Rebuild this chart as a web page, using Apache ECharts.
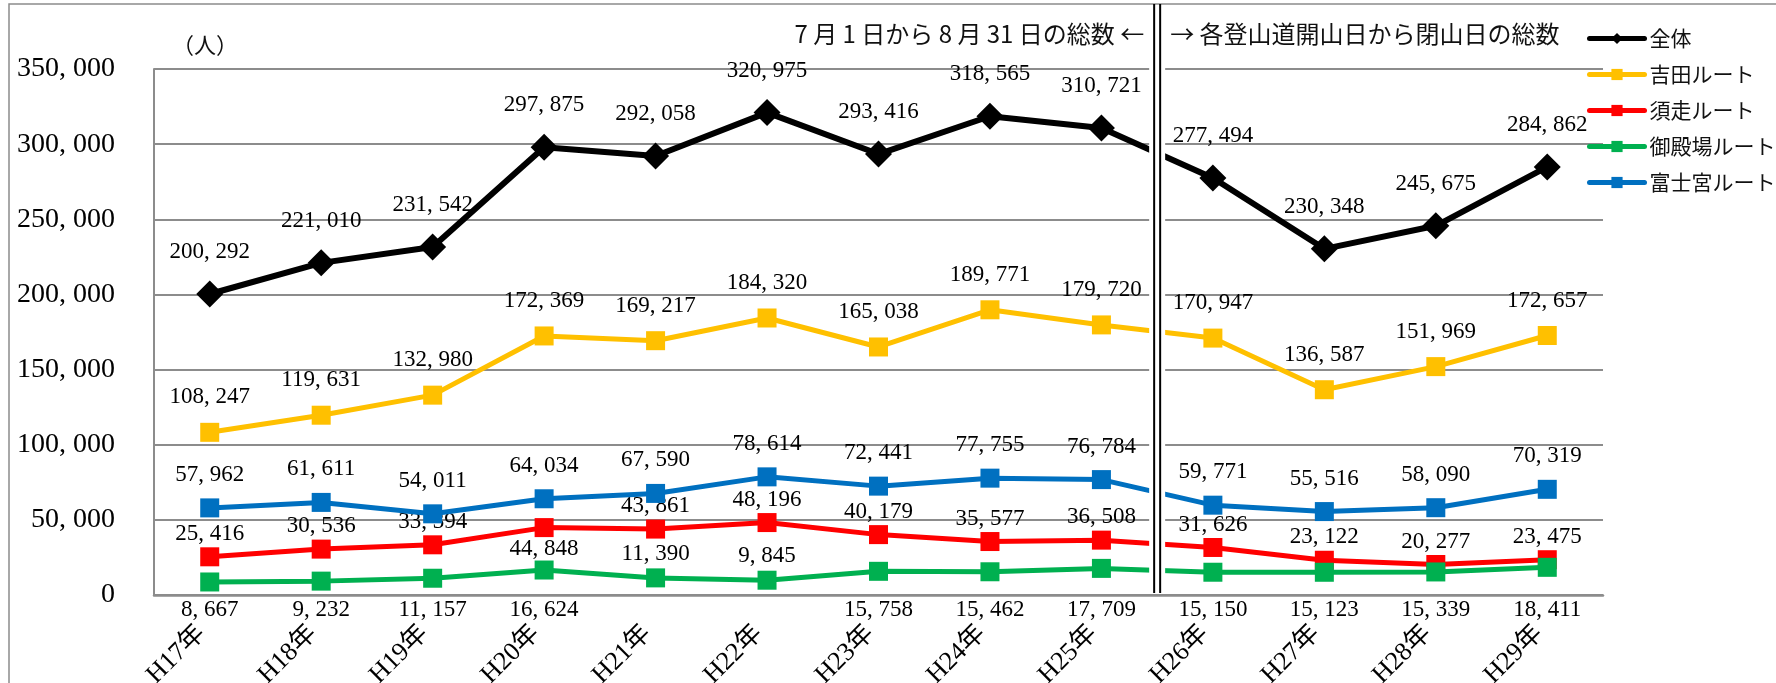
<!DOCTYPE html>
<html><head><meta charset="utf-8">
<script src="https://cdn.jsdelivr.net/npm/echarts@6/dist/echarts.min.js"></script>
<style>html,body{margin:0;padding:0;background:#fff}#c{width:1776px;height:683px}</style>
</head><body><div id="c"></div><script>
// ---- data ----
const categories = ['H17年','H18年','H19年','H20年','H21年','H22年','H23年','H24年','H25年','H26年','H27年','H28年','H29年'];
const seriesNames = ['全体','吉田ルート','須走ルート','御殿場ルート','富士宮ルート'];
const total      = [200292,221010,231542,297875,292058,320975,293416,318565,310721,277494,230348,245675,284862];
const yoshida    = [108247,119631,132980,172369,169217,184320,165038,189771,179720,170947,136587,151969,172657];
const subashiri  = [25416,30536,33394,44848,43861,48196,40179,35577,36508,31626,23122,20277,23475];
const gotemba    = [8667,9232,11157,16624,11390,9845,15758,15462,17709,15150,15123,15339,18411];
const fujinomiya = [57962,61611,54011,64034,67590,78614,72441,77755,76784,59771,55516,58090,70319];
const yMin = 0, yMax = 350000, yInterval = 50000;
const unitLabel = '（人）';
const leftNote = '7 月 1 日から 8 月 31 日の総数 ←';
const rightNote = '→ 各登山道開山日から閉山日の総数';
const periodBreakAfter = 'H25年';
const gotembaLabelAbove = ['H21年','H22年'];
const subashiriLabelBelow = ['H20年'];

// ---- styling ----
const SERIF = '"Liberation Serif","Noto Sans CJK JP",serif';
const CJK = '"Noto Sans CJK JP","Liberation Serif",sans-serif';
const colors = ['#000000','#FFC000','#FF0000','#00B050','#0070C0'];
const fmt = v => Number(v).toLocaleString('en-US').replace(/,/g, ', ');
const labelBase = {show:true, color:'#000', fontFamily:SERIF, fontSize:23, formatter:p=>fmt(Array.isArray(p.value)?p.value[1]:p.value)};

const chart = echarts.init(document.getElementById('c'), null, {renderer:'canvas'});

function lineSeries(name, data, idx, opts){
  return Object.assign({
    name, type:'line', data,
    symbol: idx===0 ? 'diamond' : 'rect',
    symbolSize: idx===0 ? 27 : 19,
    lineStyle:{color:colors[idx], width: idx===0 ? 6 : 5},
    itemStyle:{color:colors[idx]},
    z: 2 + idx,
    label: Object.assign({}, labelBase, {position:'top'}),
    emphasis:{disabled:true}
  }, opts||{});
}

const series = [
  lineSeries(seriesNames[0], total, 0, {label:Object.assign({}, labelBase, {position:'top', distance:17})}),
  lineSeries(seriesNames[1], yoshida, 1, {label:Object.assign({}, labelBase, {position:'top', distance:14})}),
  lineSeries(seriesNames[2], subashiri.map((v,i)=> subashiriLabelBelow.includes(categories[i]) ? {value:v, label:{position:'bottom', distance:0}} : v), 2,
    {label:Object.assign({}, labelBase, {position:'top', distance:2})}),
  lineSeries(seriesNames[3], gotemba.map((v,i)=> gotembaLabelAbove.includes(categories[i]) ? {value:v, label:{show:true}} : v), 3,
    {label:Object.assign({}, labelBase, {show:false, position:'top', distance:3})}),
  lineSeries(seriesNames[4], fujinomiya, 4, {label:Object.assign({}, labelBase, {position:'top', distance:12})}),
  {
    name:'御殿場ラベル', type:'scatter', silent:true, symbol:'circle', symbolSize:0,
    itemStyle:{color:'#ffffff', opacity:1},
    data: gotemba.map((v,i)=>({value:[categories[i], 0], label:{show:!gotembaLabelAbove.includes(categories[i])}})),
    label: Object.assign({}, labelBase, {position:'bottom', distance:3, color:'#000', opacity:1, formatter:p=>fmt(gotemba[p.dataIndex])}),
    z: 1
  }
];

const option = {
  animation:false,
  backgroundColor:'#ffffff',
  grid:{left:154, right:173, top:69, bottom:88, containLabel:false, outerBoundsMode:'none'},
  legend:{
    data: seriesNames, orient:'vertical', left:1582, top:23,
    itemWidth:55, itemHeight:14, itemGap:15,
    lineStyle:{width:5, cap:'round'},
    textStyle:{fontFamily:CJK, fontSize:21, color:'#111', lineHeight:20},
    selectedMode:false
  },
  xAxis:{
    type:'category', data:categories, boundaryGap:true,
    axisLine:{show:true, lineStyle:{color:'#8c8c8c', width:2.5}},
    axisTick:{show:false},
    axisLabel:{rotate:45, margin:26, padding:[0,12,0,0], fontFamily:SERIF, fontSize:26, color:'#000', interval:0}
  },
  yAxis:{
    type:'value', min:yMin, max:yMax, interval:yInterval,
    axisLine:{show:true, lineStyle:{color:'#8c8c8c', width:2}},
    axisTick:{show:false},
    splitLine:{show:true, lineStyle:{color:'#8c8c8c', width:2}},
    axisLabel:{margin:39, fontFamily:SERIF, fontSize:28, color:'#000', formatter:v=>fmt(v)}
  },
  series
};
chart.setOption(option);

// decorations: frame, period divider, notes, unit
const iA = categories.indexOf(periodBreakAfter);
const xa = chart.convertToPixel({xAxisIndex:0}, categories[iA]);
const xb = chart.convertToPixel({xAxisIndex:0}, categories[iA+1]);
const mid = (xa + xb) / 2;
const y0 = chart.convertToPixel({yAxisIndex:0}, yMin);

chart.setOption({graphic:[
  {type:'rect', z:0, silent:true, shape:{x:9, y:4, width:1800, height:800}, style:{fill:'none', stroke:'#8c8c8c', lineWidth:1.5}},
  {type:'rect', z:50, silent:true, shape:{x:mid-8, y:5, width:16, height:y0-7}, style:{fill:'#ffffff'}},
  {type:'line', z:51, silent:true, shape:{x1:mid-3, y1:4, x2:mid-3, y2:y0-2}, style:{stroke:'#000', lineWidth:2}},
  {type:'line', z:51, silent:true, shape:{x1:mid+3, y1:4, x2:mid+3, y2:y0-2}, style:{stroke:'#000', lineWidth:2}},
  {type:'text', z:52, silent:true, style:{text:leftNote, x:mid-13, y:34, align:'right', verticalAlign:'middle', font:'24px '+CJK, fill:'#111'}},
  {type:'text', z:52, silent:true, style:{text:rightNote, x:mid+13, y:34, align:'left', verticalAlign:'middle', font:'24px '+CJK, fill:'#111'}},
  {type:'text', z:52, silent:true, style:{text:unitLabel, x:172, y:45, align:'left', verticalAlign:'middle', font:'22px '+CJK, fill:'#111'}}
]});
</script></body></html>
